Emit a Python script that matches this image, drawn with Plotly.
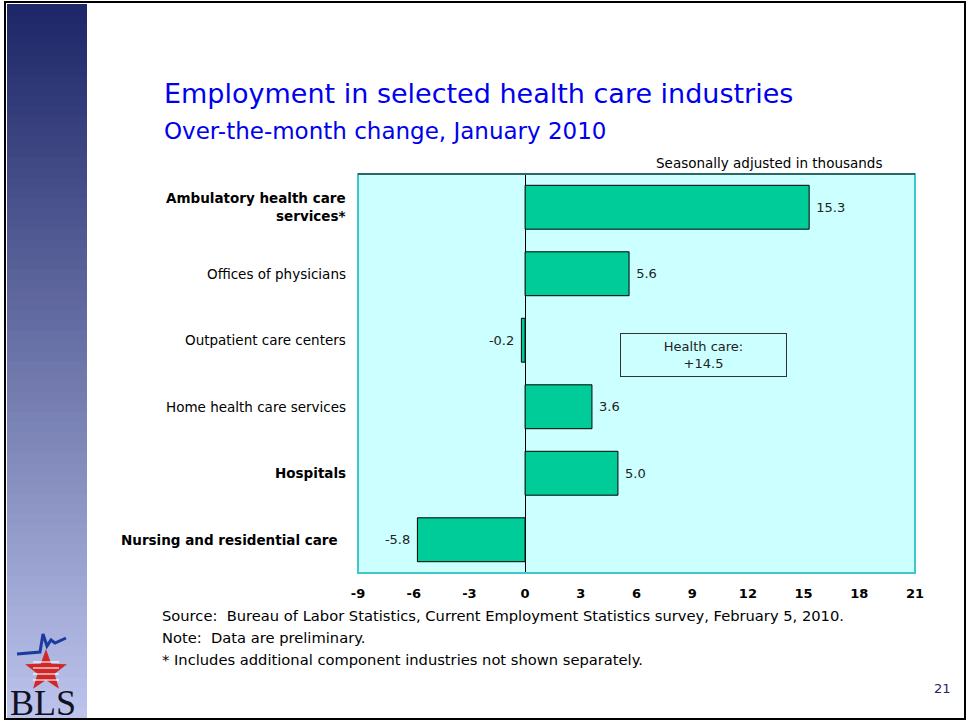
import math
import plotly.graph_objects as go

categories = [
    "Ambulatory health care<br>services*",
    "Offices of physicians",
    "Outpatient care centers",
    "Home health care services",
    "Hospitals",
    "Nursing and residential care",
]
bold = [True, False, False, False, True, True]
changes = [15.3, 5.6, -0.2, 3.6, 5.0, -5.8]
x_ticks = [-9, -6, -3, 0, 3, 6, 9, 12, 15, 18, 21]

FONT = "DejaVu Sans"
BLUE = "#0000EE"
NBSP = "\u00a0"

fig = go.Figure()
fig.add_trace(go.Bar(
    y=list(range(len(categories))),
    x=changes,
    orientation="h",
    width=0.66,
    marker=dict(color="#00CC99", line=dict(color="black", width=1)),
    text=[(NBSP + f"{v:.1f}") if v >= 0 else (f"{v:.1f}" + NBSP) for v in changes],
    textposition="outside",
    textfont=dict(size=13, color="#222222", family=FONT),
    cliponaxis=False,
    hoverinfo="skip",
))

# category labels (right aligned, some bold)
for i, (c, b) in enumerate(zip(categories, bold)):
    fig.add_annotation(
        x=0, xref="paper", xshift=-18 if i == 5 else -10, y=i, yref="y",
        text=f"<b>{c}</b>" if b else c,
        showarrow=False, xanchor="right", align="right",
        font=dict(size=13.5, color="black", family=FONT),
    )


def paper_x(px):
    return (px - 358) / 557


def paper_y(py):
    return (573 - py) / 399


# left gradient band
n = 70
top = (0x1E, 0x27, 0x68)
bot = (0xBC, 0xC4, 0xEC)
y0p, y1p = 4, 718
for k in range(n):
    t = k / (n - 1)
    col = tuple(int(top[j] + (bot[j] - top[j]) * t) for j in range(3))
    ya = y0p + (y1p - y0p) * k / n
    yb = y0p + (y1p - y0p) * (k + 1) / n + 1.5
    fig.add_shape(
        type="rect", xref="paper", yref="paper",
        x0=paper_x(7), x1=paper_x(87),
        y0=paper_y(min(yb, y1p)), y1=paper_y(ya),
        fillcolor="rgb(%d,%d,%d)" % col, line=dict(width=0), layer="below",
    )

fig.update_layout(
    width=967, height=723,
    margin=dict(l=358, r=52, t=174, b=150),
    paper_bgcolor="white",
    plot_bgcolor="#CCFFFF",
    showlegend=False,
    font=dict(family=FONT),
    xaxis=dict(
        range=[-9, 21], tickvals=x_ticks,
        ticktext=[f"<b>{v}</b>" for v in x_ticks],
        tickfont=dict(size=13, color="black", family=FONT),
        showgrid=False, zeroline=True, zerolinecolor="black", zerolinewidth=1,
        showline=False, ticks="outside", ticklen=8, tickcolor="rgba(0,0,0,0)",
        fixedrange=True,
    ),
    yaxis=dict(
        range=[5.5, -0.5], showticklabels=False, showgrid=False,
        zeroline=False, showline=False, ticks="", fixedrange=True,
    ),
)

# plot frame
fig.add_shape(type="rect", xref="paper", yref="paper", x0=0, x1=1, y0=0, y1=1,
              line=dict(color="#40C8C8", width=2))
fig.add_shape(type="line", xref="paper", yref="paper", x0=0, x1=1, y0=1, y1=1,
              line=dict(color="#2E6666", width=2))

texts = [
    ("Employment in selected health care industries", 162, 93, 27, BLUE, "left"),
    ("Over-the-month change, January 2010", 162, 131, 23, BLUE, "left"),
    ("Seasonally adjusted in thousands", 884, 163, 13.5, "black", "right"),
    ("Source:  Bureau of Labor Statistics, Current Employment Statistics survey, February 5, 2010.", 160, 615, 14.7, "black", "left"),
    ("Note:  Data are preliminary.", 160, 637, 14.7, "black", "left"),
    ("* Includes additional component industries not shown separately.", 160, 659, 14.7, "black", "left"),
    ("21", 953, 688, 13, "#1E2768", "right"),
]
for t, x, y, s, c, anchor in texts:
    fig.add_annotation(
        x=paper_x(x), y=paper_y(y), xref="paper", yref="paper",
        text=t, showarrow=False, xanchor=anchor, yanchor="middle",
        font=dict(size=s, color=c, family=FONT),
    )

# health care total box
fig.add_annotation(
    x=paper_x(703), y=paper_y(355), xref="paper", yref="paper",
    text="Health care:<br>+14.5", showarrow=False,
    xanchor="center", yanchor="middle",
    font=dict(size=13, color="#222222", family=FONT),
    bgcolor="#CCFFFF", bordercolor="#333333", borderwidth=1,
    width=163, height=40, align="center",
)

# BLS logo (approximate): star, swoosh, letters
cx, cy, ro, ri = 46, 671, 22, 9
pts = []
for k in range(10):
    r = ro if k % 2 == 0 else ri
    a = -math.pi / 2 + k * math.pi / 5
    pts.append((cx + r * math.cos(a), cy + r * math.sin(a)))
path = "M " + " L ".join("%f %f" % (paper_x(px), paper_y(py)) for px, py in pts) + " Z"
fig.add_shape(type="path", xref="paper", yref="paper", path=path,
              fillcolor="#D02828", line=dict(width=0))
for sy in [662, 668, 674, 680]:
    fig.add_shape(type="line", xref="paper", yref="paper",
                  x0=paper_x(cx - 13), x1=paper_x(cx + 13),
                  y0=paper_y(sy), y1=paper_y(sy),
                  line=dict(color="rgba(255,255,255,0.75)", width=1.5))
fig.add_shape(
    type="path", xref="paper", yref="paper",
    path="M %f %f L %f %f L %f %f L %f %f L %f %f L %f %f L %f %f" % (
        paper_x(17), paper_y(654), paper_x(40), paper_y(652),
        paper_x(43), paper_y(634), paper_x(47), paper_y(646),
        paper_x(51), paper_y(640), paper_x(55), paper_y(643),
        paper_x(66), paper_y(638)),
    line=dict(color="#1A3AA0", width=3),
)
fig.add_annotation(
    x=paper_x(43), y=paper_y(703), xref="paper", yref="paper",
    xanchor="center", yanchor="middle",
    text="BLS", showarrow=False,
    font=dict(size=36, color="#111122", family="Liberation Serif"),
)

# slide frame
fig.add_shape(
    type="rect", xref="paper", yref="paper",
    x0=paper_x(5), x1=paper_x(965), y0=paper_y(719), y1=paper_y(2),
    line=dict(color="black", width=2), fillcolor="rgba(0,0,0,0)",
)

fig.write_html(
    "out.html",
    config={"displayModeBar": False},
    post_script="document.body.style.margin='0';document.body.style.overflow='hidden';",
)
